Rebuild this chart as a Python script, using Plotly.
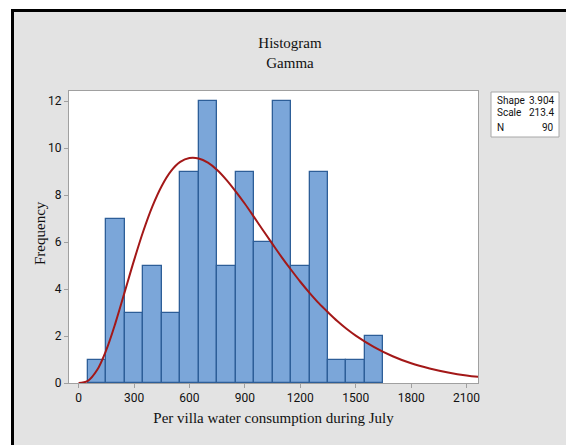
import plotly.graph_objects as go

# Histogram bins (centers, width 100) and counts
bin_centers = [100, 200, 300, 400, 500, 600, 700, 800, 900, 1000, 1100, 1200, 1300, 1400, 1500, 1600]
counts = [1, 7, 3, 5, 3, 9, 12, 5, 9, 6, 12, 5, 9, 1, 1, 2]

# Fitted gamma curve
curve_x = [0, 50, 100, 150, 200, 250, 300, 350, 400, 450, 500, 550, 600, 650, 700, 750, 800,
           850, 900, 950, 1000, 1050, 1100, 1150, 1200, 1250, 1300, 1350, 1400, 1450, 1500,
           1600, 1700, 1800, 1900, 2000, 2100, 2200]
curve_y = [0.0, 0.09, 0.55, 1.41, 2.57, 3.89, 5.22, 6.46, 7.53, 8.39, 9.02, 9.41, 9.58, 9.56,
           9.38, 9.07, 8.65, 8.16, 7.63, 7.06, 6.48, 5.91, 5.35, 4.82, 4.31, 3.84, 3.40, 3.01,
           2.64, 2.31, 2.02, 1.53, 1.14, 0.84, 0.62, 0.45, 0.32, 0.23]

x_ticks = [0, 300, 600, 900, 1200, 1500, 1800, 2100]
y_ticks = [0, 2, 4, 6, 8, 10, 12]

stat_labels = ["Shape", "Scale", "N"]
stat_values = ["3.904", "213.4", "90"]

sans = "Roboto, Liberation Sans, sans-serif"
tick_font = dict(family=sans, size=12, color="#111")
serif = "Liberation Serif, Times New Roman, serif"

fig = go.Figure()
fig.add_trace(go.Bar(
    x=bin_centers, y=counts, width=[100] * len(bin_centers),
    marker=dict(color="#7BA6D9", line=dict(color="#2D5E98", width=1.3)),
    hoverinfo="skip", showlegend=False,
))
fig.add_trace(go.Scatter(
    x=curve_x, y=curve_y, mode="lines",
    line=dict(color="#A31818", width=2, shape="spline"),
    showlegend=False, hoverinfo="skip",
))

# page is offset by the 8px body margin
OFF = 8
FW, FH = 574 - OFF, 445 - OFF
L, T = 69 - OFF, 91 - OFF
Rpx, Bpx = 478 - OFF, 383 - OFF
R, B = FW - Rpx, FH - Bpx
W, H = Rpx - L, Bpx - T

def px(xp):  # page x -> paper
    return (xp - OFF - L) / W

def py(yp):  # page y -> paper
    return (Bpx - (yp - OFF)) / H

shapes = [
    dict(type="rect", xref="paper", yref="paper", x0=px(12.5), x1=px(572.5), y0=py(470), y1=py(10.5),
         line=dict(color="black", width=3), fillcolor="#E3E3E3", layer="below"),
    dict(type="rect", xref="paper", yref="paper", x0=0, x1=1, y0=0, y1=1,
         line=dict(width=0), fillcolor="white", layer="below"),
    dict(type="rect", xref="paper", yref="paper", x0=px(491), x1=px(559), y0=py(137), y1=py(92),
         line=dict(color="#A8A8A8", width=1), fillcolor="white", layer="above"),
]

annotations = []
rows_y = [100, 113, 127]
for lab, val, ry in zip(stat_labels, stat_values, rows_y):
    annotations.append(dict(xref="paper", yref="paper", x=px(495), y=py(ry), text=lab,
                            showarrow=False, xanchor="left", yanchor="middle",
                            font=dict(family=sans, size=10, color="#111")))
    annotations.append(dict(xref="paper", yref="paper", x=px(556), y=py(ry), text=val,
                            showarrow=False, xanchor="right", yanchor="middle",
                            font=dict(family=sans, size=10, color="#111")))

annotations.append(dict(xref="paper", yref="paper", x=px(40), y=py(233), text="Frequency",
                        textangle=-90, showarrow=False, xanchor="center", yanchor="middle",
                        font=dict(family=serif, size=15, color="#111")))

fig.update_layout(
    width=FW, height=FH,
    margin=dict(l=L, r=R, t=T, b=B),
    paper_bgcolor="white", plot_bgcolor="white",
    bargap=0,
    title=dict(text="Histogram<br>Gamma", x=(290 - OFF) / FW, xref="container", xanchor="center",
               y=1 - (48 - OFF) / FH, yref="container", yanchor="top",
               font=dict(family=serif, size=15, color="#111")),
    shapes=shapes, annotations=annotations,
    xaxis=dict(range=[-52, 2162], tickvals=x_ticks, ticks="outside", ticklen=4, tickcolor="#A0A0A0",
               showline=True, linecolor="#A0A0A0", linewidth=1, mirror=True, showgrid=False,
               zeroline=False, tickfont=tick_font,
               title=dict(text="Per villa water consumption during July",
                          font=dict(family=serif, size=15, color="#111"), standoff=8)),
    yaxis=dict(range=[0, 12.43], tickvals=y_ticks, ticks="outside", ticklen=4, tickcolor="#A0A0A0",
               showline=True, linecolor="#A0A0A0", linewidth=1, mirror=True, showgrid=False,
               zeroline=False, tickfont=tick_font),
)

fig.write_html("out.html")
